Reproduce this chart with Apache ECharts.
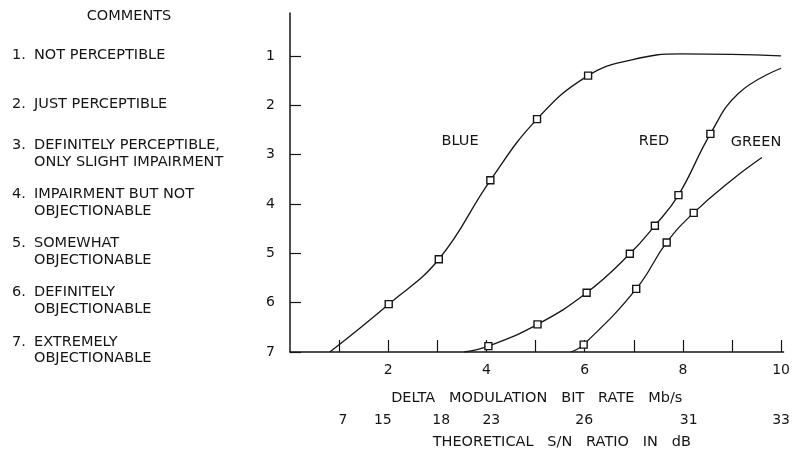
<!DOCTYPE html>
<html><head><meta charset="utf-8">
<script src="https://cdn.jsdelivr.net/npm/echarts@6/dist/echarts.min.js"></script>
<style>html,body{margin:0;padding:0;background:#fff}#c{width:793px;height:455px}</style>
</head><body><div id="c"></div>
<script>
// ---- data ----
const rateTicks = [1, 2, 3, 4, 5, 6, 7, 8, 9, 10];
const rateLabels = [2, 4, 6, 8, 10];
const scoreTicks = [1, 2, 3, 4, 5, 6, 7];
const snrLabels = ['7', '15', '18', '23', '26', '31', '33'];
const snrAtRate = [1.08, 1.89, 3.08, 4.10, 5.99, 8.12, 10];
const comments = [
  ['NOT PERCEPTIBLE'],
  ['JUST PERCEPTIBLE'],
  ['DEFINITELY PERCEPTIBLE,', 'ONLY SLIGHT IMPAIRMENT'],
  ['IMPAIRMENT BUT NOT', 'OBJECTIONABLE'],
  ['SOMEWHAT', 'OBJECTIONABLE'],
  ['DEFINITELY', 'OBJECTIONABLE'],
  ['EXTREMELY', 'OBJECTIONABLE']
];
const curveNames = ['BLUE', 'RED', 'GREEN'];

// measured points (squares)
const blueRate  = [2.01, 3.03, 4.08, 5.03, 6.07];
const blueScore = [6.03, 5.12, 3.52, 2.28, 1.40];
const redRate   = [4.04, 5.04, 6.04, 6.92, 7.43, 7.91, 8.56];
const redScore  = [6.88, 6.44, 5.80, 5.01, 4.44, 3.82, 2.58];
const greenRate  = [5.98, 7.05, 7.67, 8.22];
const greenScore = [6.85, 5.72, 4.78, 4.18];

// traced curve points without markers
const blueTraceRate  = [0.81, 6.96, 7.97, 8.99, 10.0];
const blueTraceScore = [7.00, 1.08, 0.96, 0.97, 1.00];
const redTraceRate   = [3.55, 9.13, 10.0];
const redTraceScore  = [7.00, 1.76, 1.25];
const greenTraceRate  = [5.72, 8.99, 9.61];
const greenTraceScore = [7.00, 3.52, 3.06];

// ---- build ----
const FONT = 'DejaVu Sans';
const INK = '#151515';
const FS = 14.5;
function merge(mx, my, tx, ty) {
  const pts = [];
  mx.forEach((x, i) => pts.push({ value: [x, my[i]], m: true }));
  tx.forEach((x, i) => pts.push({ value: [x, ty[i]], m: false }));
  pts.sort((a, b) => a.value[0] - b.value[0]);
  return pts.map(p => p.m ? { value: p.value } : { value: p.value, symbol: 'none' });
}
function lineSeries(name, data) {
  return {
    name, type: 'line', xAxisIndex: 0, yAxisIndex: 0,
    data, smooth: 0.45,
    symbol: 'rect', symbolSize: 7, showAllSymbol: true,
    lineStyle: { color: INK, width: 1.3 },
    itemStyle: { color: '#fff', borderColor: INK, borderWidth: 1.4 },
    z: 3, animation: false
  };
}

const chart = echarts.init(document.getElementById('c'), null, { renderer: 'canvas' });
const gridBox = { left: 290, top: 13, width: 495, height: 339 };
const xMax = 10.05, yMin = 0.13, yMax = 7;
const txt = (s, x, y) => ({ type: 'text', x, y, style: { text: s, align: 'center', verticalAlign: 'middle', font: FS + 'px "DejaVu Sans"', fill: INK } });

chart.setOption({
  backgroundColor: '#fff',
  animation: false,
  textStyle: { fontFamily: FONT, color: INK },
  grid: [Object.assign({ containLabel: false }, gridBox), Object.assign({ containLabel: false }, gridBox)],
  xAxis: [
    {
      gridIndex: 0, type: 'value', min: 0, max: xMax, position: 'bottom',
      axisLine: { show: true, lineStyle: { color: INK, width: 1.5 } },
      axisTick: { show: true, inside: true, length: 12, customValues: rateTicks, lineStyle: { color: INK, width: 1.2 } },
      axisLabel: { customValues: rateLabels, fontFamily: FONT, fontSize: 14, color: INK, margin: 11 },
      splitLine: { show: false },
      name: 'DELTA   MODULATION   BIT   RATE   Mb/s', nameLocation: 'middle', nameGap: 39,
      nameTextStyle: { fontFamily: FONT, fontSize: FS, color: INK }
    },
    {
      gridIndex: 1, type: 'value', min: 0, max: xMax, position: 'bottom',
      axisLine: { show: false }, axisTick: { show: false }, splitLine: { show: false },
      axisLabel: {
        customValues: snrAtRate, fontFamily: FONT, fontSize: 14, color: INK, margin: 63,
        formatter: v => {
          let bi = 0, bd = 1e9;
          snrAtRate.forEach((r, i) => { const d = Math.abs(r - v); if (d < bd) { bd = d; bi = i; } });
          return snrLabels[bi];
        }
      },
      name: 'THEORETICAL   S/N   RATIO   IN   dB', nameLocation: 'middle', nameGap: 85,
      nameTextStyle: { fontFamily: FONT, fontSize: FS, color: INK, padding: [0, 0, 0, 50] }
    }
  ],
  yAxis: [
    {
      gridIndex: 0, type: 'value', min: yMin, max: yMax, inverse: true, position: 'left',
      axisLine: { show: true, lineStyle: { color: INK, width: 1.5 } },
      axisTick: { show: true, inside: true, length: 11, customValues: scoreTicks, lineStyle: { color: INK, width: 1.2 } },
      axisLabel: { customValues: scoreTicks, fontFamily: FONT, fontSize: 14, color: INK, margin: 15 },
      splitLine: { show: false }
    },
    {
      gridIndex: 1, type: 'value', min: yMin, max: yMax, inverse: true, position: 'left',
      axisLine: { show: false }, axisTick: { show: false }, splitLine: { show: false },
      axisLabel: {
        customValues: scoreTicks, align: 'left', margin: 278,
        fontFamily: FONT, fontSize: FS, color: INK, lineHeight: 16.5,
        formatter: v => {
          const i = Math.round(v) - 1;
          return comments[i].map((l, k) => k === 0 ? `{n|${i + 1}.}{t|${l}}` : `{n|}{t|${l}}`).join('\n');
        },
        rich: {
          n: { width: 22, fontFamily: FONT, fontSize: FS, color: INK, lineHeight: 16.5 },
          t: { fontFamily: FONT, fontSize: FS, color: INK, lineHeight: 16.5 }
        }
      }
    }
  ],
  graphic: [
    txt('COMMENTS', 129, 16),
    txt(curveNames[0], 460, 141),
    txt(curveNames[1], 654, 141),
    txt(curveNames[2], 756, 142)
  ],
  series: [
    lineSeries(curveNames[0], merge(blueRate, blueScore, blueTraceRate, blueTraceScore)),
    lineSeries(curveNames[1], merge(redRate, redScore, redTraceRate, redTraceScore)),
    lineSeries(curveNames[2], merge(greenRate, greenScore, greenTraceRate, greenTraceScore))
  ]
});
</script>
</body></html>
